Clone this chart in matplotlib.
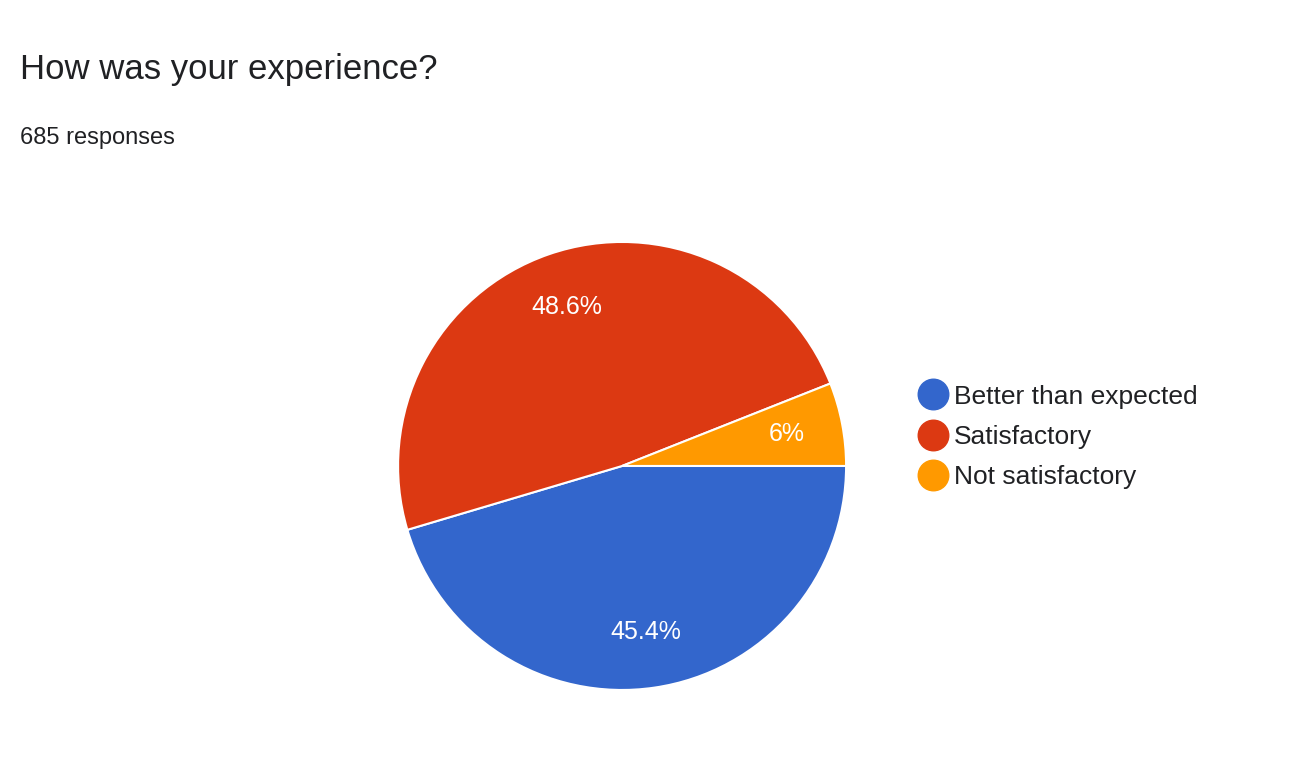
import matplotlib
matplotlib.use("Agg")
import matplotlib.pyplot as plt
from matplotlib.lines import Line2D
import numpy as np

categories = ["Better than expected", "Satisfactory", "Not satisfactory"]
values = [45.4, 48.6, 6.0]
pct_labels = ["45.4%", "48.6%", "6%"]
colors = ["#3366CC", "#DC3912", "#FF9900"]

plt.rcParams["font.family"] = "Liberation Sans"
fig = plt.figure(figsize=(13.12, 7.77), dpi=100)
fig.text(20/1312, 1-70/777, "How was your experience?", fontsize=25, color="#202124", va="center")
fig.text(20/1312, 1-138/777, "685 responses", fontsize=17, color="#202124", va="center")

ax = fig.add_axes([0.3034, 0.112, 0.3415, 0.5766])
wedges, texts = ax.pie(values, colors=colors, startangle=0, counterclock=False,
                       wedgeprops=dict(edgecolor="white", linewidth=1.5))
for w, lab in zip(wedges, pct_labels):
    ang = np.deg2rad((w.theta1 + w.theta2) / 2)
    ax.text(0.75*np.cos(ang), 0.75*np.sin(ang), lab, ha="center", va="center",
            color="white", fontsize=18)
ax.set_xlim(-1, 1)
ax.set_ylim(-1, 1)
ax.set_aspect("equal")

handles = [Line2D([], [], marker="o", linestyle="", markersize=22, markerfacecolor=c,
                  markeredgecolor=c) for c in colors]
fig.legend(handles, categories, loc="center left", bbox_to_anchor=(893/1312, 1-437/777),
           frameon=False, fontsize=19, handletextpad=0.2, labelspacing=0.62,
           handlelength=1.2, labelcolor="#202124")
fig.savefig("out.png", dpi=100)
